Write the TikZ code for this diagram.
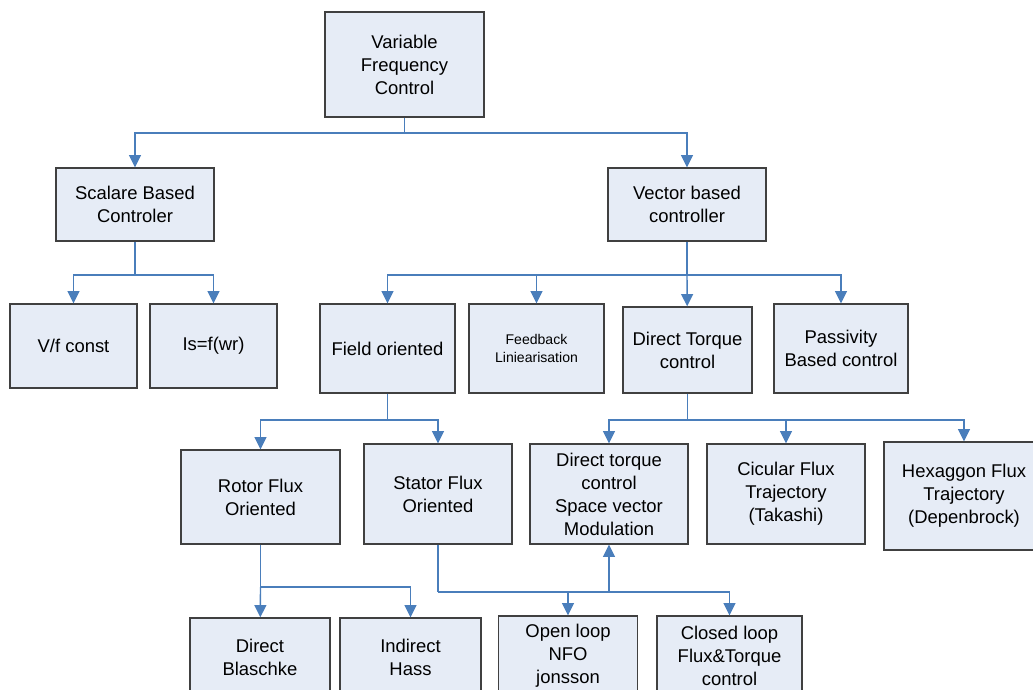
\documentclass[tikz,border=0pt]{standalone}
\usepackage{fontspec}
\setmainfont{Liberation Sans}
\usetikzlibrary{arrows.meta}

\definecolor{linie}{HTML}{4A7EBB}
\definecolor{kasten}{HTML}{E6ECF6}
\definecolor{rand}{HTML}{404040}

\tikzset{
    block/.style 2 args={draw=rand, line width=0.75pt, fill=kasten, align=center,
        minimum width=#1*0.02cm, minimum height=#2*0.02cm, inner sep=1pt,
        font=\fontsize{10.5}{13.1}\selectfont},
    link/.style={draw=linie, line width=0.8pt},
    pfeil/.style={link, -{Triangle[length=7pt,width=6.8pt]}}
}

\begin{document}
\begin{tikzpicture}[x=0.02cm, y=-0.02cm]
    \useasboundingbox (0,0) rectangle (1033,689);

    % Kaesten
    \node[block={159}{105}] (vfc) at (404.5,64.5) {Variable\\Frequency\\Control};
    \node[block={158}{73}] (sca) at (135,204.5) {Scalare Based\\Controler};
    \node[block={158}{73}] (vec) at (687,204.5) {Vector based\\controller};

    \node[block={127}{84}] (vf) at (73.5,346) {V/f const};
    \node[block={127}{84}] (isf) at (213.5,346) {Is=f(wr)};
    \node[block={135}{89}] (fo) at (387.5,348.5) {Field oriented};
    \node[block={135}{89}, font=\fontsize{8}{10.2}\selectfont] (fb) at (536.5,348.5) {Feedback\\Liniearisation};
    \node[block={129}{86}] (dtc) at (687.5,350) {Direct Torque\\control};
    \node[block={134}{89}] (pbc) at (841,348.5) {Passivity\\Based control};

    \node[block={159}{94}] (rfo) at (260.5,497) {Rotor Flux\\Oriented};
    \node[block={148}{100}] (sfo) at (438,494) {Stator Flux\\Oriented};
    \node[block={158}{100}] (svm) at (609,494) {Direct torque\\control\\Space vector\\Modulation};
    \node[block={158}{100}] (cft) at (786,494) {Cicular Flux\\Trajectory\\(Takashi)};
    \node[block={160}{108}] (hft) at (964,496) {Hexaggon Flux\\Trajectory\\(Depenbrock)};

    \node[block={140}{78}] (dir) at (260,657) {Direct\\Blaschke};
    \node[block={141}{78}] (ind) at (410.5,657) {Indirect\\Hass};
    \node[block={139}{80}] (olp) at (568,656) {Open loop\\NFO\\jonsson};
    \node[block={145}{80}] (clp) at (729.5,656) {Closed loop\\Flux\&Torque\\control};

    % Verzweigungspunkte
    \coordinate (b1) at (404.5,133);
    \coordinate (b2) at (135,275);
    \coordinate (b3) at (687,275);
    \coordinate (b4) at (387.5,420);
    \coordinate (b5) at (687.5,420);
    \coordinate (b6) at (260.5,587);
    \coordinate (b7) at (438,592);
    \coordinate (b8) at (609,592);

    % Verbindungen
    \draw[link] (vfc) -- (b1);
    \draw[pfeil] (b1) -| (sca);
    \draw[pfeil] (b1) -| (vec);

    \draw[link] (sca) -- (b2);
    \draw[pfeil] (b2) -| (vf);
    \draw[pfeil] (b2) -| (isf);

    \draw[link] (vec) -- (b3);
    \draw[pfeil] (b3) -| (fo);
    \draw[pfeil] (b3) -| (fb);
    \draw[pfeil] (b3) -- (dtc);
    \draw[pfeil] (b3) -| (pbc);

    \draw[link] (fo) -- (b4);
    \draw[pfeil] (b4) -| (rfo);
    \draw[pfeil] (b4) -| (sfo);

    \draw[link] (dtc) -- (b5);
    \draw[pfeil] (b5) -| (svm);
    \draw[pfeil] (b5) -| (cft);
    \draw[pfeil] (b5) -| (hft);

    \draw[link] (rfo) -- (b6);
    \draw[pfeil] (b6) -- (dir);
    \draw[pfeil] (b6) -| (ind);

    \draw[link] (sfo) -- (b7);
    \draw[pfeil] (b7) -| (olp);
    \draw[pfeil] (b7) -| (clp);
    \draw[pfeil] (b8) -- (svm);
\end{tikzpicture}
\end{document}
